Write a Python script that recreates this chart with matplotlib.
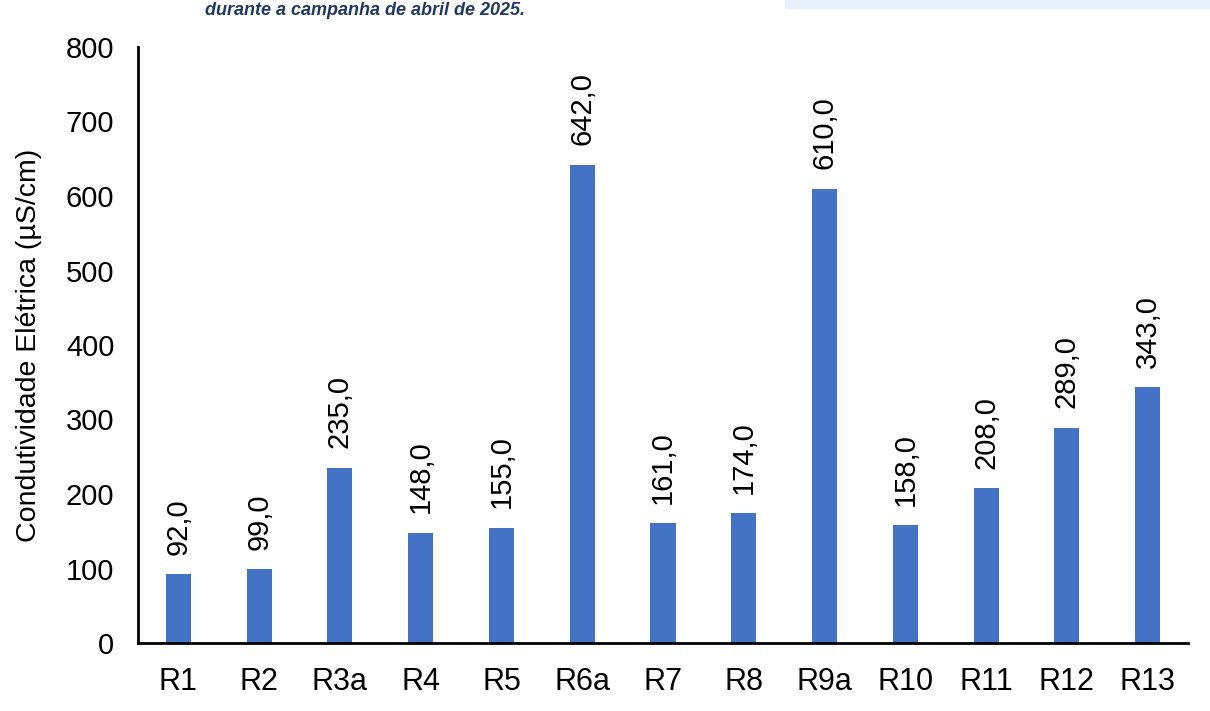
import matplotlib.pyplot as plt
from matplotlib.patches import Rectangle

plt.rcParams['font.family'] = ['Liberation Sans', 'DejaVu Sans']

# Dados
pontos = ['R1', 'R2', 'R3a', 'R4', 'R5', 'R6a', 'R7', 'R8', 'R9a', 'R10', 'R11', 'R12', 'R13']
condutividade = [92.0, 99.0, 235.0, 148.0, 155.0, 642.0, 161.0, 174.0, 610.0, 158.0, 208.0, 289.0, 343.0]
y_ticks = [0, 100, 200, 300, 400, 500, 600, 700, 800]

fig = plt.figure(figsize=(12.1, 7.11), dpi=100)
ax = fig.add_axes([138 / 1210, 1 - 643 / 711, (1188 - 138) / 1210, (643 - 47) / 711])

bars = ax.bar(pontos, condutividade, width=0.31, color='#4472C4')
for b, v in zip(bars, condutividade):
    ax.annotate(f'{v:.1f}'.replace('.', ','), (b.get_x() + b.get_width() / 2, v),
                xytext=(0, 14), textcoords='offset points', rotation=90,
                ha='center', va='bottom', fontsize=21)

ax.set_xlim(-0.5, len(pontos) - 0.5)
ax.set_ylim(0, 800)
ax.set_yticks(y_ticks)
ax.tick_params(axis='both', length=0)
ax.tick_params(axis='x', labelsize=22, pad=17)
ax.tick_params(axis='y', labelsize=21, pad=17)
for s in ['top', 'right']:
    ax.spines[s].set_visible(False)
for s in ['left', 'bottom']:
    ax.spines[s].set_linewidth(2)
ax.set_ylabel('Condutividade Elétrica (µS/cm)', fontsize=20.5, labelpad=17)

# Legenda no topo (recortada no original) e caixa azul clara
fig.text(205 / 1210, 1 - 2 / 711, 'durante a campanha de abril de 2025.', fontsize=13,
         fontweight='bold', style='italic', color='#1F3864', ha='left', va='top')
fig.patches.append(Rectangle((785 / 1210, 1 - 8 / 711), 1, 8 / 711,
                             transform=fig.transFigure, color='#E6F0FA', zorder=0))

fig.savefig('out.png', dpi=100)
